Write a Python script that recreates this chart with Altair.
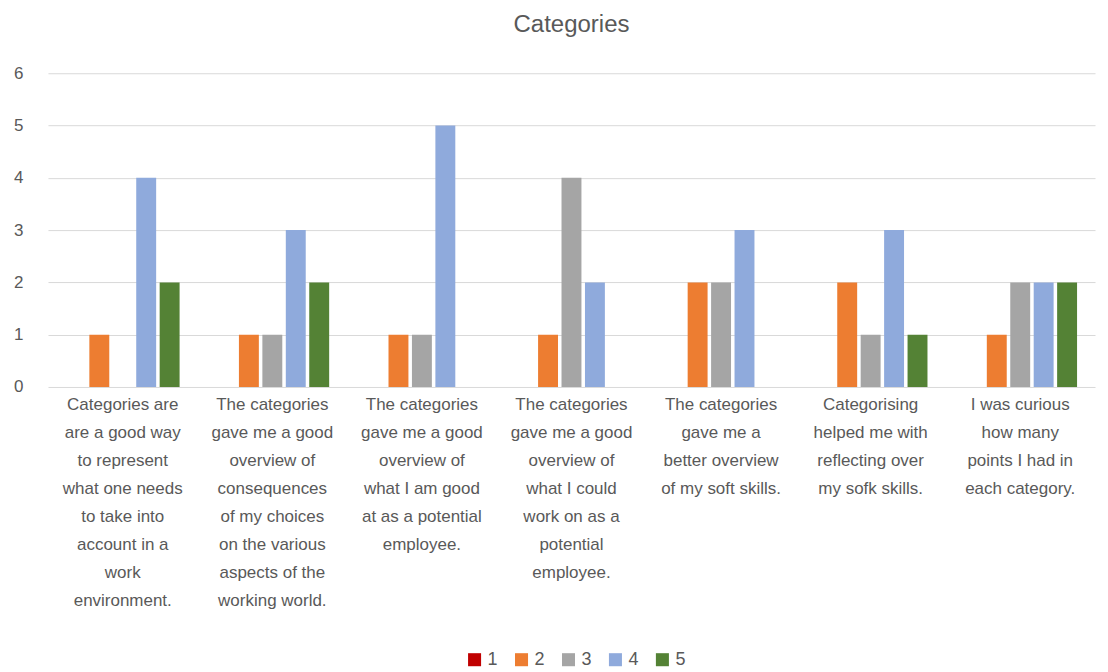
import altair as alt
import pandas as pd

categories = [
    "Categories are\nare a good way\nto represent\nwhat one needs\nto take into\naccount in a\nwork\nenvironment.",
    "The categories\ngave me a good\noverview of\nconsequences\nof my choices\non the various\naspects of the\nworking world.",
    "The categories\ngave me a good\noverview of\nwhat I am good\nat as a potential\nemployee.",
    "The categories\ngave me a good\noverview of\nwhat I could\nwork on as a\npotential\nemployee.",
    "The categories\ngave me a\nbetter overview\nof my soft skills.",
    "Categorising\nhelped me with\nreflecting over\nmy sofk skills.",
    "I was curious\nhow many\npoints I had in\neach category.",
]
series = ["1", "2", "3", "4", "5"]
s1 = [0, 0, 0, 0, 0, 0, 0]
s2 = [1, 1, 1, 1, 2, 2, 1]
s3 = [0, 1, 1, 4, 2, 1, 2]
s4 = [4, 3, 5, 2, 3, 3, 2]
s5 = [2, 2, 0, 0, 0, 1, 2]
colors = ["#C00000", "#ED7D31", "#A5A5A5", "#8FAADC", "#548235"]

rows = []
for name, vals in zip(series, [s1, s2, s3, s4, s5]):
    for c, v in zip(categories, vals):
        rows.append({"cat": c, "series": name, "value": v})
df = pd.DataFrame(rows)

font = "Liberation Sans"
gray = "#595959"

chart = alt.Chart(df).mark_bar().encode(
    x=alt.X("cat:N", sort=categories, title=None,
            scale=alt.Scale(paddingInner=0.24, paddingOuter=0.12),
            axis=alt.Axis(labelAngle=0, labelExpr="split(datum.label, '\\n')",
                          labelFontSize=17, labelColor=gray, labelFont=font,
                          labelLineHeight=28, labelPadding=10, ticks=False,
                          domain=False, grid=False, labelLimit=0)),
    xOffset=alt.XOffset("series:N", sort=series,
                        scale=alt.Scale(paddingInner=0.15)),
    y=alt.Y("value:Q", title=None,
            scale=alt.Scale(domain=[0, 6]),
            axis=alt.Axis(values=[0, 1, 2, 3, 4, 5, 6], format="d",
                          labelFontSize=17, labelColor=gray, labelFont=font,
                          ticks=False, domain=False, labelPadding=25,
                          gridColor="#D9D9D9", gridWidth=1)),
    color=alt.Color("series:N", sort=series,
                    scale=alt.Scale(domain=series, range=colors),
                    legend=alt.Legend(title=None, orient="none", direction="horizontal",
                                      legendX=418, legendY=578,
                                      symbolType="square", symbolSize=170,
                                      symbolStrokeWidth=0,
                                      labelFontSize=18, labelColor=gray, labelFont=font,
                                      columnPadding=14)),
).properties(
    width=1048, height=314,
    background="white",
    title=alt.TitleParams("Categories", fontSize=24, font=font, color=gray,
                          fontWeight="normal", offset=27, anchor="middle"),
).configure_view(stroke=None)

chart.save("out.html", embed_options={"renderer": "svg", "actions": False})
